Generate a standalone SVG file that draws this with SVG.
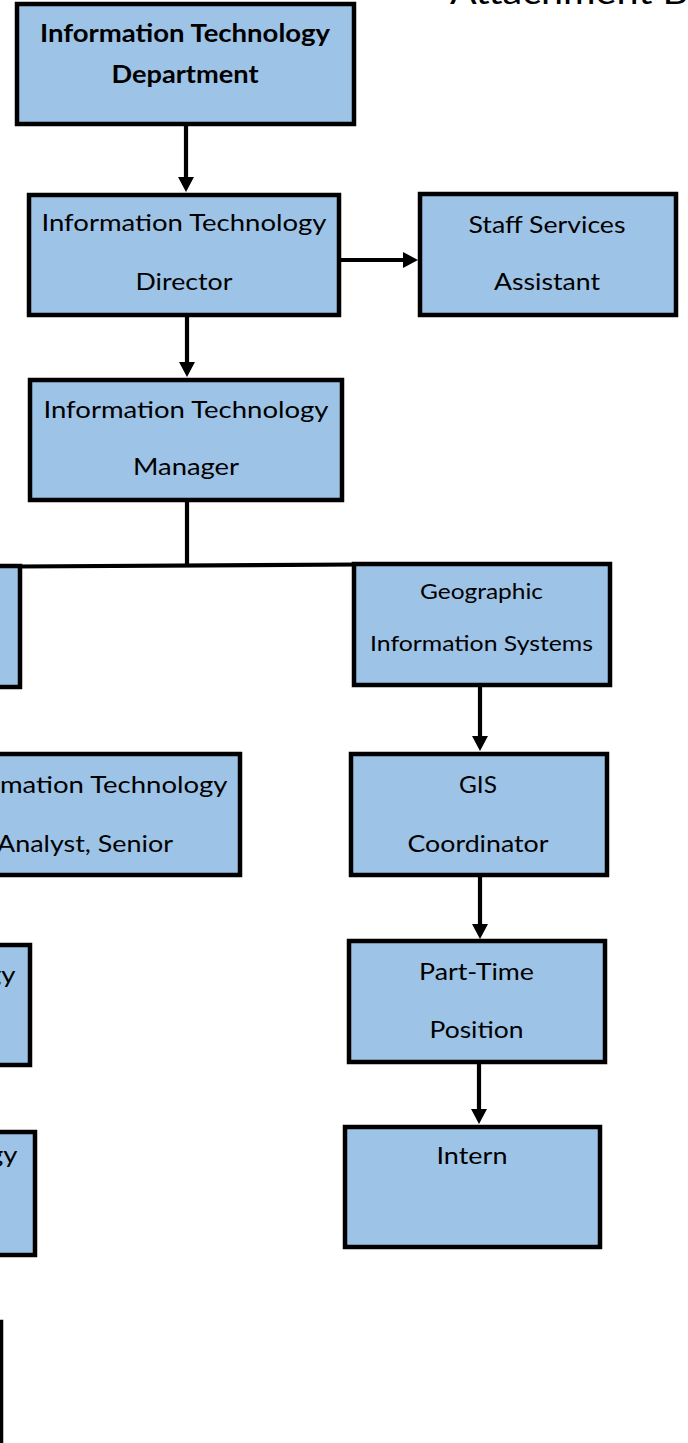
<svg xmlns="http://www.w3.org/2000/svg" width="688" height="1443" viewBox="0 0 688 1443">
  <defs>
    <marker id="arrow" markerUnits="userSpaceOnUse" markerWidth="18" markerHeight="18" refX="7" refY="8" orient="auto">
      <path d="M0,0 L15,8 L0,16 z" fill="#000"/>
    </marker>
    <style>
      .box { fill: #9DC3E6; stroke: #000; stroke-width: 4.5; }
      .lbl { font-family: Lato, "Liberation Sans", sans-serif; font-size: 23.5px; fill: #000; text-anchor: middle; }
      .sm { font-size: 21.5px; }
      .b { font-weight: bold; font-size: 24.5px; }
      .edge { stroke: #000; stroke-width: 4.2; fill: none; }
      .arr { marker-end: url(#arrow); }
    </style>
  </defs>
  <rect width="688" height="1443" fill="#fff"/>

  <text id="heading" x="450" y="4" class="lbl" style="text-anchor:start;font-size:33px" textLength="238" lengthAdjust="spacingAndGlyphs">Attachment B</text>

  <g id="connectors">
    <line class="edge arr" x1="186" y1="126" x2="186" y2="184"/>
    <line class="edge arr" x1="187" y1="317" x2="187" y2="369"/>
    <line class="edge arr" x1="341" y1="260" x2="410" y2="260"/>
    <line class="edge" x1="187" y1="502" x2="187" y2="566"/>
    <line class="edge" x1="18" y1="566.5" x2="356" y2="564.5"/>
    <line class="edge arr" x1="480" y1="687" x2="480" y2="743"/>
    <line class="edge arr" x1="480" y1="877" x2="480" y2="931"/>
    <line class="edge arr" x1="479" y1="1064" x2="479" y2="1116"/>
  </g>

  <g id="it-department">
    <rect class="box" x="17" y="4" width="337" height="120"/>
    <text class="lbl b" x="185" y="42" textLength="290" lengthAdjust="spacingAndGlyphs">Information Technology</text>
    <text class="lbl b" x="185" y="83" textLength="147" lengthAdjust="spacingAndGlyphs">Department</text>
  </g>

  <g id="it-director">
    <rect class="box" x="29" y="195" width="310" height="120"/>
    <text class="lbl" x="184" y="231" textLength="285" lengthAdjust="spacingAndGlyphs">Information Technology</text>
    <text class="lbl" x="184" y="290" textLength="97" lengthAdjust="spacingAndGlyphs">Director</text>
  </g>

  <g id="staff-services-assistant">
    <rect class="box" x="420" y="194" width="256" height="121"/>
    <text class="lbl" x="547" y="233" textLength="157" lengthAdjust="spacingAndGlyphs">Staff Services</text>
    <text class="lbl" x="547" y="290" textLength="106" lengthAdjust="spacingAndGlyphs">Assistant</text>
  </g>

  <g id="it-manager">
    <rect class="box" x="30" y="380" width="312" height="120"/>
    <text class="lbl" x="186" y="418" textLength="285" lengthAdjust="spacingAndGlyphs">Information Technology</text>
    <text class="lbl" x="186" y="475" textLength="106" lengthAdjust="spacingAndGlyphs">Manager</text>
  </g>

  <g id="left-unit">
    <rect class="box" x="-100" y="566" width="120" height="121"/>
  </g>

  <g id="gis">
    <rect class="box" x="354" y="564" width="256" height="121"/>
    <text class="lbl sm" x="481.5" y="599" textLength="123" lengthAdjust="spacingAndGlyphs">Geographic</text>
    <text class="lbl sm" x="481.5" y="651" textLength="223" lengthAdjust="spacingAndGlyphs">Information Systems</text>
  </g>

  <g id="it-analyst-senior">
    <rect class="box" x="-80" y="754" width="320" height="121"/>
    <text class="lbl" x="85" y="793" textLength="285" lengthAdjust="spacingAndGlyphs">Information Technology</text>
    <text class="lbl" x="85" y="852" textLength="176" lengthAdjust="spacingAndGlyphs">Analyst, Senior</text>
  </g>

  <g id="it-left-3">
    <rect class="box" x="-300" y="945" width="330" height="120"/>
    <text class="lbl" x="-127" y="983" textLength="285" lengthAdjust="spacingAndGlyphs">Information Technology</text>
  </g>

  <g id="it-left-4">
    <rect class="box" x="-300" y="1132" width="335" height="123"/>
    <text class="lbl" x="-125" y="1163" textLength="285" lengthAdjust="spacingAndGlyphs">Information Technology</text>
  </g>

  <g id="left-5">
    <rect class="box" x="-300" y="1322" width="301" height="200"/>
  </g>

  <g id="gis-coordinator">
    <rect class="box" x="351" y="754" width="256" height="121"/>
    <text class="lbl" x="478" y="793" textLength="38" lengthAdjust="spacingAndGlyphs">GIS</text>
    <text class="lbl" x="478" y="852" textLength="141" lengthAdjust="spacingAndGlyphs">Coordinator</text>
  </g>

  <g id="part-time">
    <rect class="box" x="349" y="941" width="256" height="121"/>
    <text class="lbl" x="476.5" y="980" textLength="115" lengthAdjust="spacingAndGlyphs">Part-Time</text>
    <text class="lbl" x="476.5" y="1038" textLength="94" lengthAdjust="spacingAndGlyphs">Position</text>
  </g>

  <g id="intern">
    <rect class="box" x="345" y="1127" width="255" height="120"/>
    <text class="lbl" x="472" y="1164" textLength="71" lengthAdjust="spacingAndGlyphs">Intern</text>
  </g>
</svg>
